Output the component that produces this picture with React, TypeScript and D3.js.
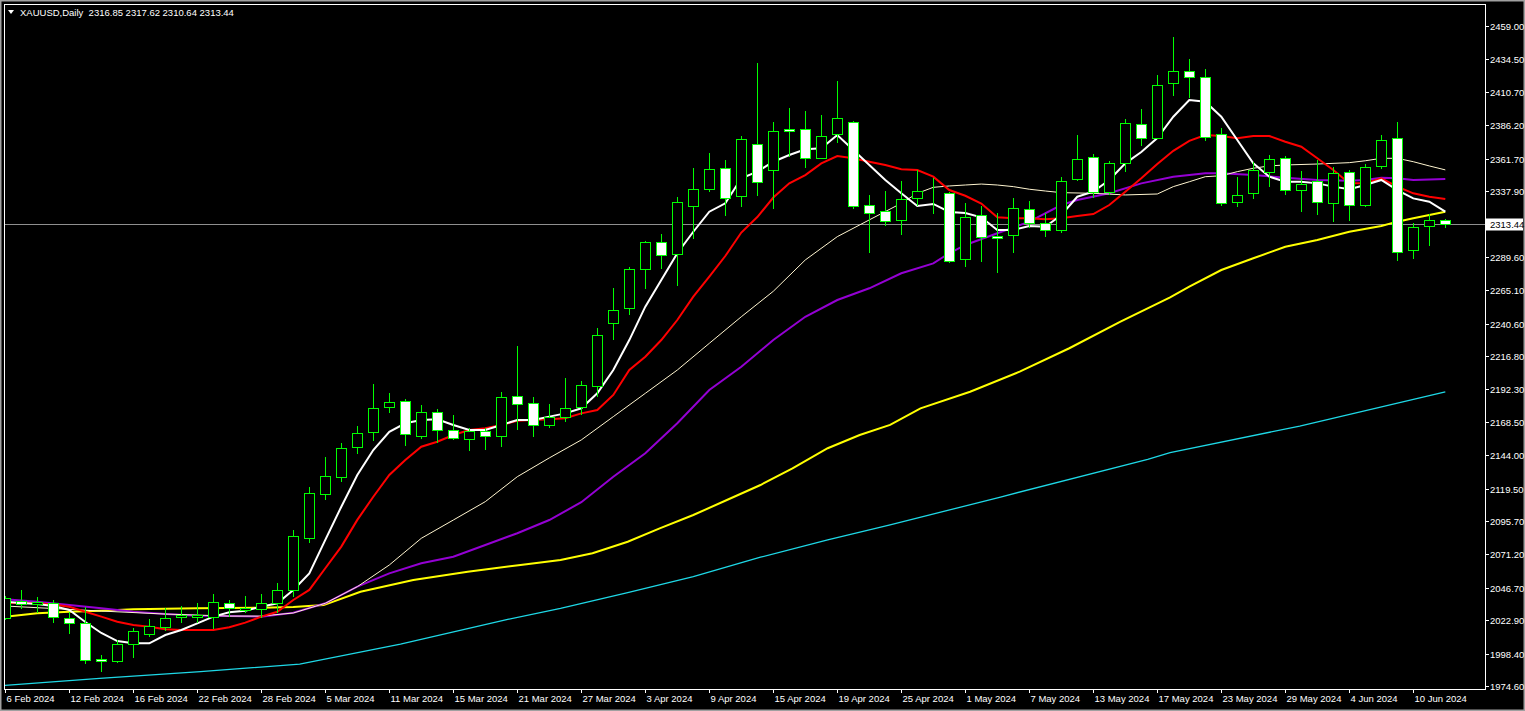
import React from "react";
import * as d3 from "d3";

// ---------- DATA ----------
const symbol = "XAUUSD,Daily";

const dates = [
  "2024-02-06","2024-02-07","2024-02-08","2024-02-09","2024-02-12","2024-02-13","2024-02-14","2024-02-15","2024-02-16","2024-02-19",
  "2024-02-20","2024-02-21","2024-02-22","2024-02-23","2024-02-26","2024-02-27","2024-02-28","2024-02-29","2024-03-01","2024-03-04",
  "2024-03-05","2024-03-06","2024-03-07","2024-03-08","2024-03-11","2024-03-12","2024-03-13","2024-03-14","2024-03-15","2024-03-18",
  "2024-03-19","2024-03-20","2024-03-21","2024-03-22","2024-03-25","2024-03-26","2024-03-27","2024-03-28","2024-04-01","2024-04-02",
  "2024-04-03","2024-04-04","2024-04-05","2024-04-08","2024-04-09","2024-04-10","2024-04-11","2024-04-12","2024-04-15","2024-04-16",
  "2024-04-17","2024-04-18","2024-04-19","2024-04-22","2024-04-23","2024-04-24","2024-04-25","2024-04-26","2024-04-29","2024-04-30",
  "2024-05-01","2024-05-02","2024-05-03","2024-05-06","2024-05-07","2024-05-08","2024-05-09","2024-05-10","2024-05-13","2024-05-14",
  "2024-05-15","2024-05-16","2024-05-17","2024-05-20","2024-05-21","2024-05-22","2024-05-23","2024-05-24","2024-05-27","2024-05-28",
  "2024-05-29","2024-05-30","2024-05-31","2024-06-03","2024-06-04","2024-06-05","2024-06-06","2024-06-07","2024-06-10","2024-06-11",
  "2024-06-12",
];

const opens = [
  2024.5,2037.0,2034.8,2035.3,2024.3,2020.6,1994.4,1992.9,2005.2,2012.5,
  2018.1,2025.0,2025.5,2025.0,2035.3,2030.4,2030.9,2035.3,2045.1,2083.0,
  2115.3,2128.2,2149.8,2160.8,2179.6,2183.5,2158.3,2175.5,2162.3,2156.0,
  2161.4,2158.2,2187.5,2182.1,2166.0,2172.2,2179.1,2195.0,2240.8,2252.2,
  2280.9,2300.2,2291.5,2326.7,2339.2,2354.6,2334.0,2372.2,2353.1,2383.2,
  2383.2,2361.9,2379.5,2388.3,2327.4,2322.9,2316.3,2332.5,2336.9,2336.2,
  2287.8,2320.1,2304.9,2305.4,2324.5,2314.3,2309.3,2346.5,2362.6,2336.9,
  2358.2,2386.8,2377.0,2416.9,2426.2,2421.3,2379.5,2329.6,2336.2,2351.6,
  2361.9,2338.4,2345.0,2328.9,2351.6,2327.4,2356.0,2376.6,2294.4,2311.9,
  2316.85,
];
const highs = [
  2040.6,2045.1,2040.1,2037.7,2029.1,2032.8,1997.3,2008.4,2016.9,2023.5,
  2032.1,2033.3,2035.3,2042.1,2037.7,2040.7,2042.1,2050.0,2089.1,2120.9,
  2142.9,2152.7,2165.6,2196.2,2189.9,2185.0,2180.8,2177.9,2173.5,2164.1,
  2164.1,2190.2,2224.1,2186.5,2181.3,2200.4,2198.4,2237.6,2266.9,2282.3,
  2301.2,2306.3,2333.5,2354.6,2365.6,2360.7,2378.3,2431.6,2388.3,2398.6,
  2396.6,2393.7,2418.6,2389.3,2335.0,2338.0,2345.2,2353.4,2347.7,2337.0,
  2328.9,2326.9,2321.5,2332.6,2330.6,2321.5,2348.0,2379.0,2365.1,2360.1,
  2390.5,2398.1,2423.1,2451.2,2434.8,2427.4,2383.9,2348.4,2359.0,2364.1,
  2363.4,2352.4,2360.7,2355.8,2353.3,2357.5,2379.0,2388.3,2314.2,2320.8,
  2317.62,
];
const lows = [
  2023.0,2031.1,2028.2,2020.6,2012.5,1990.5,1985.1,1991.2,1995.4,2010.8,
  2015.0,2020.6,2020.6,2016.4,2025.5,2028.0,2024.3,2028.0,2039.7,2079.8,
  2111.1,2124.6,2144.8,2154.4,2175.2,2150.9,2155.9,2153.2,2155.1,2146.9,
  2147.7,2150.2,2162.5,2157.3,2164.1,2168.1,2173.5,2186.9,2228.6,2246.9,
  2265.9,2280.4,2268.3,2303.0,2337.5,2319.8,2326.4,2334.5,2324.7,2363.1,
  2355.0,2361.9,2373.4,2324.9,2292.2,2312.3,2305.6,2326.9,2320.8,2284.8,
  2281.9,2286.0,2278.0,2292.2,2310.5,2304.4,2306.9,2345.5,2332.5,2334.8,
  2352.1,2371.2,2377.0,2407.9,2405.9,2374.8,2327.1,2325.9,2332.3,2340.6,
  2335.2,2322.7,2320.5,2315.4,2316.1,2326.4,2353.8,2286.7,2288.2,2297.7,
  2310.64,
];
const closes = [
  2039.2,2035.0,2036.2,2025.0,2020.6,1993.7,1992.9,2005.4,2014.9,2018.4,
  2024.3,2026.5,2027.0,2036.5,2031.6,2032.1,2035.3,2045.1,2084.7,2116.0,
  2128.5,2149.1,2160.1,2178.4,2182.8,2159.3,2175.5,2162.3,2156.4,2161.4,
  2158.2,2186.8,2181.6,2166.0,2171.8,2178.4,2195.2,2232.2,2250.6,2280.6,
  2300.2,2290.7,2329.6,2339.2,2353.9,2332.5,2375.9,2344.3,2381.7,2381.7,
  2361.9,2378.1,2391.3,2326.7,2322.0,2315.6,2331.8,2337.7,2337.2,2286.3,
  2318.6,2304.0,2303.2,2325.2,2314.3,2309.3,2345.5,2361.2,2336.9,2358.2,
  2387.6,2376.6,2415.5,2425.7,2421.3,2377.8,2328.9,2334.7,2353.1,2361.2,
  2338.4,2342.8,2329.6,2350.9,2327.4,2355.3,2375.1,2292.9,2311.2,2316.4,
  2313.44,
];

// Moving average lines (one value per bar)
const maWhite = [
  2036.5,2035.5,2034.8,2033.3,2030.4,2021.6,2013.5,2007.6,2005.9,2005.9,
  2012.0,2015.7,2020.6,2025.5,2028.7,2029.9,2032.8,2035.3,2045.1,2057.3,
  2081.8,2106.2,2129.5,2147.8,2161.2,2167.4,2169.8,2170.3,2166.2,2162.5,
  2162.5,2166.2,2169.8,2169.8,2172.3,2174.7,2178.4,2189.4,2206.5,2228.5,
  2253.0,2272.6,2292.2,2308.0,2322.7,2328.9,2347.2,2352.1,2359.4,2364.3,
  2368.5,2369.2,2379.0,2368.0,2357.0,2346.0,2336.2,2326.9,2328.4,2322.5,
  2321.8,2318.6,2309.3,2309.3,2312.2,2311.7,2320.3,2333.7,2337.4,2346.0,
  2358.2,2366.5,2376.8,2392.4,2404.7,2403.4,2392.4,2375.3,2358.2,2348.4,
  2344.7,2344.7,2343.5,2341.1,2339.2,2342.3,2346.0,2338.6,2332.5,2330.0,
  2322.7,
];
const maRed = [
  2035.3,2035.7,2035.3,2034.5,2032.8,2029.1,2025.5,2021.8,2019.4,2018.1,
  2016.2,2015.7,2015.7,2015.7,2017.7,2021.1,2025.5,2029.1,2037.7,2045.1,
  2061.0,2076.9,2096.5,2113.5,2129.5,2140.5,2150.2,2153.9,2158.8,2162.5,
  2163.7,2166.2,2169.3,2169.8,2170.3,2171.1,2174.7,2177.2,2188.2,2206.5,
  2216.3,2228.5,2243.2,2260.4,2275.0,2290.2,2307.4,2318.8,2333.1,2343.5,
  2349.6,2358.2,2363.6,2361.9,2359.4,2357.0,2353.8,2353.3,2348.4,2338.6,
  2334.4,2328.7,2318.6,2317.9,2317.9,2317.1,2317.9,2319.5,2321.0,2327.6,
  2337.4,2347.2,2357.7,2367.4,2374.7,2379.0,2378.3,2376.6,2378.3,2378.3,
  2374.1,2370.4,2361.9,2353.3,2343.5,2343.5,2347.2,2341.1,2336.2,2333.7,
  2332.1,
];
// [bar index, price] readings for the slower averages
const maCream: [number, number][] = [
  [0,2033.3],[6,2029.6],[10,2027.4],[14,2025.9],[16,2025.9],[18,2028.2],[20,2035.3],[22,2047.5],[24,2063.4],[26,2083.0],
  [28,2096.4],[30,2109.9],[32,2128.2],[34,2142.0],[36,2155.2],[38,2172.3],[40,2189.4],[42,2206.5],[44,2226.1],[46,2245.6],
  [48,2264.3],[50,2287.3],[52,2304.4],[54,2316.7],[56,2328.9],[57,2336.2],[58,2340.6],[59,2341.6],[60,2342.3],[61,2343.0],
  [62,2342.3],[63,2341.1],[64,2339.2],[65,2337.9],[66,2336.7],[68,2336.2],[70,2335.0],[72,2335.7],[73,2341.1],[74,2344.7],
  [75,2348.4],[76,2349.1],[77,2352.1],[78,2354.6],[79,2356.3],[80,2357.0],[82,2357.7],[84,2358.7],[85,2360.1],[86,2361.9],
  [87,2361.9],[88,2359.4],[89,2356.3],[90,2353.4],
];
const maPurple: [number, number][] = [
  [0,2038.2],[2,2036.5],[4,2034.0],[6,2031.6],[8,2029.1],[10,2027.4],[12,2026.2],[14,2025.9],[16,2025.5],[18,2028.4],
  [20,2035.3],[22,2047.5],[24,2057.3],[26,2064.7],[28,2069.5],[30,2078.1],[32,2086.7],[34,2096.4],[36,2109.5],[38,2128.2],
  [40,2145.4],[42,2167.4],[44,2191.8],[46,2208.9],[48,2228.5],[50,2245.6],[52,2257.9],[54,2266.5],[56,2277.5],[58,2284.8],
  [59,2292.2],[60,2298.3],[62,2306.9],[64,2315.4],[66,2327.6],[67,2331.3],[69,2336.2],[71,2343.5],[73,2348.4],[75,2350.9],
  [76,2350.9],[78,2349.6],[80,2347.7],[82,2346.0],[84,2345.5],[85,2346.0],[86,2347.7],[87,2347.2],[88,2346.0],[90,2346.7],
];
const maYellow: [number, number][] = [
  [0,2025.5],[2,2028.0],[4,2029.1],[6,2029.9],[8,2030.9],[12,2031.6],[16,2032.1],[18,2032.6],[19.9,2034.0],[22.2,2043.8],
  [25.5,2052.4],[28.9,2058.5],[32.2,2063.4],[34.7,2067.1],[36.7,2072.0],[38.9,2080.5],[40.9,2090.3],[43,2100.1],[45.1,2111.1],[47.2,2122.1],
  [49.2,2134.4],[51.4,2149.1],[53.4,2158.8],[55.3,2166.2],[57.2,2178.4],[60.3,2190.6],[63.4,2205.3],[66.5,2222.5],[69.7,2242.0],[72.8,2259.9],
  [74,2267.7],[76,2279.9],[78,2288.5],[80,2297.0],[82,2301.9],[84,2308.0],[86,2312.2],[87,2315.4],[88,2317.9],[89,2320.3],
  [90,2322.7],
];
const maCyan: [number, number][] = [
  [-0.1,1975.0],[5.9,1980.2],[12.2,1985.1],[18.4,1990.7],[24.7,2005.4],[31.4,2023.5],[34.7,2031.6],[38.9,2043.1],[43,2054.8],[47.2,2069.1],
  [51.4,2081.8],[55.3,2092.8],[62.2,2113.3],[71.4,2141.0],[72.8,2145.8],[80.9,2165.4],[90,2190.4],
];

const priceTicks = [
  2459.0,2434.5,2410.7,2386.2,2361.7,2337.9,2289.6,2265.1,2240.6,2216.8,
  2192.3,2168.5,2144.0,2119.5,2095.7,2071.2,2046.7,2022.9,1998.4,1974.6,
];
const dateLabelEvery = 4;

// ---------- LAYOUT ----------
const W = 1525;
const H = 711;
const frame = { left: 4, top: 4, right: 1485, bottom: 689 };

const FONT = "'Liberation Sans', Arial, sans-serif";

export default function App() {
  const n = closes.length;
  const x = d3.scaleLinear().domain([0, n - 1]).range([5.3, 5.3 + 16 * (n - 1)]);
  const y = d3.scaleLinear().domain([1974.6, 2459.0]).range([686, 26]);
  const parse = d3.timeParse("%Y-%m-%d");
  const fmtDate = d3.timeFormat("%-d %b %Y");
  const fmtP = d3.format(".2f");

  const lineArr = d3
    .line<number>()
    .x((_, i) => x(i))
    .y((v) => y(v));
  const linePairs = d3
    .line<[number, number]>()
    .x((d) => x(d[0]))
    .y((d) => y(d[1]));

  const last = n - 1;
  const lastClose = closes[last];
  const header = `${symbol}  ${fmtP(opens[last])} ${fmtP(highs[last])} ${fmtP(lows[last])} ${fmtP(lastClose)}`;
  const yLast = Math.round(y(lastClose)) + 0.5;

  return (
    <svg
      width={W}
      height={H}
      style={{ position: "absolute", left: 0, top: 0, display: "block", background: "#000" }}
      fontFamily={FONT}
    >
      <defs>
        <clipPath id="plot">
          <rect x={frame.left + 1} y={frame.top + 1} width={frame.right - frame.left - 1} height={frame.bottom - frame.top - 1} />
        </clipPath>
      </defs>
      <rect x={0} y={0} width={W} height={H} fill="#000" />
      {/* window border */}
      <rect x={0.5} y={0.5} width={W - 1} height={H - 1} fill="none" stroke="#a0a0a0" strokeWidth={2} />

      <g clipPath="url(#plot)">
        {/* current price line */}
        <line x1={frame.left} x2={frame.right} y1={yLast} y2={yLast} stroke="#8f8f8f" strokeWidth={1} />
        {/* moving averages */}
        <path d={linePairs(maCyan) || ""} fill="none" stroke="#1ed8e6" strokeWidth={1.3} />
        <path d={linePairs(maYellow) || ""} fill="none" stroke="#ffff00" strokeWidth={2} />
        <path d={linePairs(maPurple) || ""} fill="none" stroke="#9400d3" strokeWidth={2} />
        <path d={linePairs(maCream) || ""} fill="none" stroke="#fff5d0" strokeWidth={1} />
        <path d={lineArr(maRed) || ""} fill="none" stroke="#ff0000" strokeWidth={2} />
        <path d={lineArr(maWhite) || ""} fill="none" stroke="#ffffff" strokeWidth={2} />

        {/* candles */}
        {closes.map((c, i) => {
          const o = opens[i];
          const cx = Math.round(x(i));
          const top = Math.round(y(Math.max(o, c)));
          const bot = Math.round(y(Math.min(o, c)));
          const bull = c >= o;
          return (
            <g key={i}>
              <line
                x1={cx + 0.5}
                x2={cx + 0.5}
                y1={Math.round(y(highs[i]))}
                y2={Math.round(y(lows[i]))}
                stroke="#00ff00"
                strokeWidth={1}
              />
              <rect
                x={cx - 5 + 0.5}
                y={top + 0.5}
                width={10}
                height={Math.max(bot - top, 0)}
                fill={bull ? "#000" : "#fff"}
                stroke="#00ff00"
                strokeWidth={1}
              />
            </g>
          );
        })}
      </g>

      {/* chart frame */}
      <rect
        x={frame.left + 0.5}
        y={frame.top + 0.5}
        width={frame.right - frame.left}
        height={frame.bottom - frame.top}
        fill="none"
        stroke="#ffffff"
        strokeWidth={1}
      />

      {/* header */}
      <path d="M8,10 L14,10 L11,14 Z" fill="#ffffff" />
      <text x={20} y={16} fill="#ffffff" fontSize={9.5} xmlSpace="preserve">
        {header}
      </text>

      {/* price axis */}
      {priceTicks.map((p) => {
        const yy = Math.round(y(p)) + 0.5;
        return (
          <g key={p}>
            <line x1={frame.right} x2={frame.right + 4} y1={yy} y2={yy} stroke="#ffffff" />
            <text x={frame.right + 5} y={yy + 3.5} fill="#ffffff" fontSize={9.5}>
              {fmtP(p)}
            </text>
          </g>
        );
      })}
      <rect x={frame.right + 1} y={yLast - 6} width={37} height={12} fill="#ffffff" />
      <text x={frame.right + 5} y={yLast + 3.5} fill="#000000" fontSize={9.5}>
        {fmtP(lastClose)}
      </text>

      {/* date axis */}
      {dates.map((d, i) => {
        if (i % dateLabelEvery !== 0) return null;
        const tx = Math.round(x(i)) + 0.5;
        return (
          <g key={d}>
            <line x1={tx} x2={tx} y1={frame.bottom} y2={frame.bottom + 4} stroke="#ffffff" />
            <text x={tx + 1} y={frame.bottom + 13} fill="#ffffff" fontSize={9.5}>
              {fmtDate(parse(d) as Date)}
            </text>
          </g>
        );
      })}
    </svg>
  );
}
